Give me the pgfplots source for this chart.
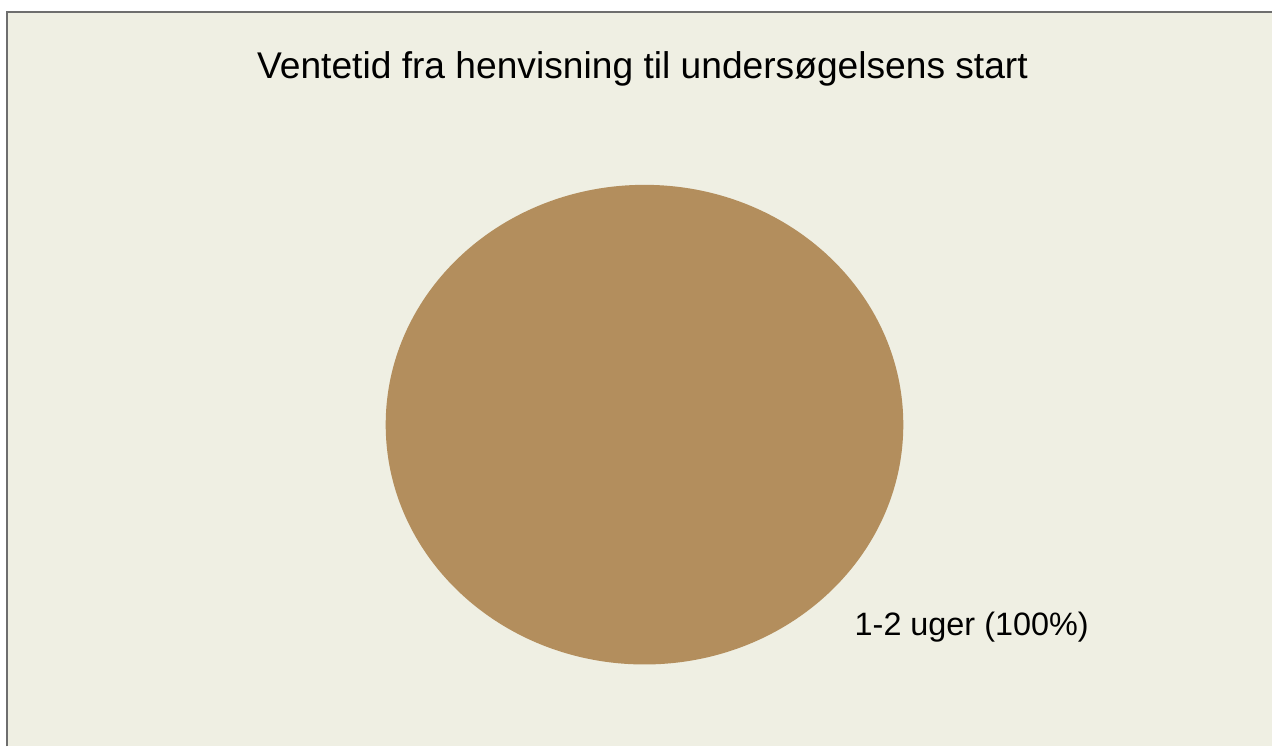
\documentclass[border=0pt]{standalone}
\usepackage{pgfplots}
\pgfplotsset{compat=1.18}
\usepackage{fontspec}
\setmainfont{Liberation Sans}
\definecolor{bgbeige}{RGB}{239,239,227}
\definecolor{piebrown}{RGB}{179,142,93}
\definecolor{framegray}{RGB}{110,110,110}
% pie data: category, share (percent), centre x, centre y, x radius, y radius (pixels)
\pgfplotstableread{
cat share cx cy rx ry
1-2 100 645 322 259 240
}\piedata
\begin{document}
\begin{tikzpicture}
\begin{axis}[
  width=636.5pt, height=373.5pt, scale only axis,
  xmin=0, xmax=1273, ymin=0, ymax=747,
  hide axis, clip=false,
]
% whole picture area (white outside the frame)
\fill[white] (axis cs:0,0) rectangle (axis cs:1273,747);
% background and frame
\fill[bgbeige] (axis cs:7,0) rectangle (axis cs:1273,735);
\draw[framegray, line width=1pt] (axis cs:7,0) -- (axis cs:7,735) -- (axis cs:1273,735);
% pie (single slice = 100%)
\pgfplotstablegetelem{0}{cx}\of\piedata \let\pcx\pgfplotsretval
\pgfplotstablegetelem{0}{cy}\of\piedata \let\pcy\pgfplotsretval
\pgfplotstablegetelem{0}{rx}\of\piedata \let\prx\pgfplotsretval
\pgfplotstablegetelem{0}{ry}\of\piedata \let\pry\pgfplotsretval
\pgfplotstablegetelem{0}{share}\of\piedata \let\pshare\pgfplotsretval
\fill[piebrown] (axis cs:\pcx,\pcy) ellipse [x radius=\prx, y radius=\pry];
% title
\node[anchor=base, font=\fontsize{18.6}{22}\selectfont] at (axis cs:643,668)
  {Ventetid fra henvisning til undersøgelsens start};
% slice label
\node[anchor=base west, inner sep=0pt, font=\fontsize{16.2}{19}\selectfont] at (axis cs:855,111)
  {1-2 uger (\pshare\%)};
\end{axis}
\end{tikzpicture}
\end{document}
